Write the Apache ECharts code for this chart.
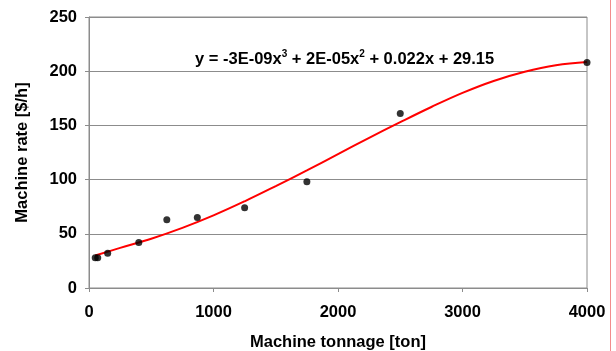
<!DOCTYPE html>
<html>
<head>
<meta charset="utf-8">
<script src="https://cdn.jsdelivr.net/npm/echarts@6/dist/echarts.min.js"></script>
<style>
  html, body { margin: 0; padding: 0; background: #fff; }
  #chart { width: 616px; height: 351px; }
</style>
</head>
<body>
<div id="chart"></div>
<script>
// measured points
var tonnage = [50, 70, 150, 400, 625, 870, 1250, 1750, 2500, 4000];
var rate = [28, 28, 32, 42, 63, 65, 74, 98, 161, 208];

// trend line
var trendX = [50, 250, 500, 750, 1000, 1250, 1500, 1750, 2000, 2250, 2500, 2750, 3000, 3250, 3500, 3750, 4000];
var trendY = [30, 37, 45.5, 55.5, 67, 80, 94, 108.5, 123.5, 138.5, 153, 167, 180, 191, 199.5, 205.5, 208.5];

var xTicks = [0, 1000, 2000, 3000, 4000];
var yTicks = [0, 50, 100, 150, 200, 250];

var font = 'Liberation Sans, Arial, sans-serif';
var gridGray = '#8c8c8c';

var chart = echarts.init(document.getElementById('chart'), null, { renderer: 'canvas' });

var points = tonnage.map(function (t, i) { return [t, rate[i]]; });
var trend = trendX.map(function (t, i) { return [t, trendY[i]]; });

chart.setOption({
    animation: false,
    backgroundColor: '#fff',
    grid: {
        left: 89, right: 29, top: 17, bottom: 63,
        outerBoundsMode: 'none',
        containLabel: false,
        show: true, borderColor: gridGray, borderWidth: 1
    },
    xAxis: {
        type: 'value',
        min: xTicks[0], max: xTicks[xTicks.length - 1], interval: 1000,
        name: 'Machine tonnage [ton]',
        nameLocation: 'middle', nameGap: 46,
        nameTextStyle: { fontFamily: font, fontWeight: 'bold', fontSize: 16.5, color: '#000' },
        axisLine: { show: true, lineStyle: { color: gridGray } },
        axisTick: { show: true, length: 4, lineStyle: { color: gridGray } },
        axisLabel: {
            margin: 16, fontFamily: font, fontWeight: 'bold', fontSize: 16.5, color: '#000',
            formatter: function (v) { return String(v); }
        },
        splitLine: { show: false }
    },
    yAxis: {
        type: 'value',
        min: yTicks[0], max: yTicks[yTicks.length - 1], interval: 50,
        name: 'Machine rate [$/h]',
        nameLocation: 'middle', nameGap: 58,
        nameTextStyle: { fontFamily: font, fontWeight: 'bold', fontSize: 16.5, color: '#000' },
        axisLine: { show: true, lineStyle: { color: gridGray } },
        axisTick: { show: true, length: 4, lineStyle: { color: gridGray } },
        axisLabel: {
            margin: 12, fontFamily: font, fontWeight: 'bold', fontSize: 16.5, color: '#000',
            formatter: function (v) { return String(v); }
        },
        splitLine: { show: true, lineStyle: { color: gridGray, width: 1 } }
    },
    series: [
        {
            name: 'trend',
            type: 'line',
            data: trend,
            smooth: 0.4,
            showSymbol: false,
            lineStyle: { color: '#ff0000', width: 2 },
            z: 3
        },
        {
            name: 'data',
            type: 'scatter',
            data: points,
            symbol: 'circle',
            symbolSize: 7,
            itemStyle: { color: '#000' },
            z: 4
        }
    ],
    graphic: [
        {
            type: 'text',
            left: 195, top: 49,
            style: {
                text: '{n|y = -3E-09x}{s|3}{n| + 2E-05x}{s|2}{n| + 0.022x + 29.15}',
                rich: {
                    n: { fontFamily: font, fontWeight: 'bold', fontSize: 16.5, fill: '#000', verticalAlign: 'bottom', lineHeight: 19 },
                    s: { fontFamily: font, fontWeight: 'bold', fontSize: 10, fill: '#000', verticalAlign: 'top', lineHeight: 19 }
                }
            }
        },
        {
            type: 'line',
            shape: { x1: 610.5, y1: 0, x2: 610.5, y2: 351 },
            style: { stroke: '#f28c8c', lineWidth: 1 }
        }
    ]
});
</script>
</body>
</html>
